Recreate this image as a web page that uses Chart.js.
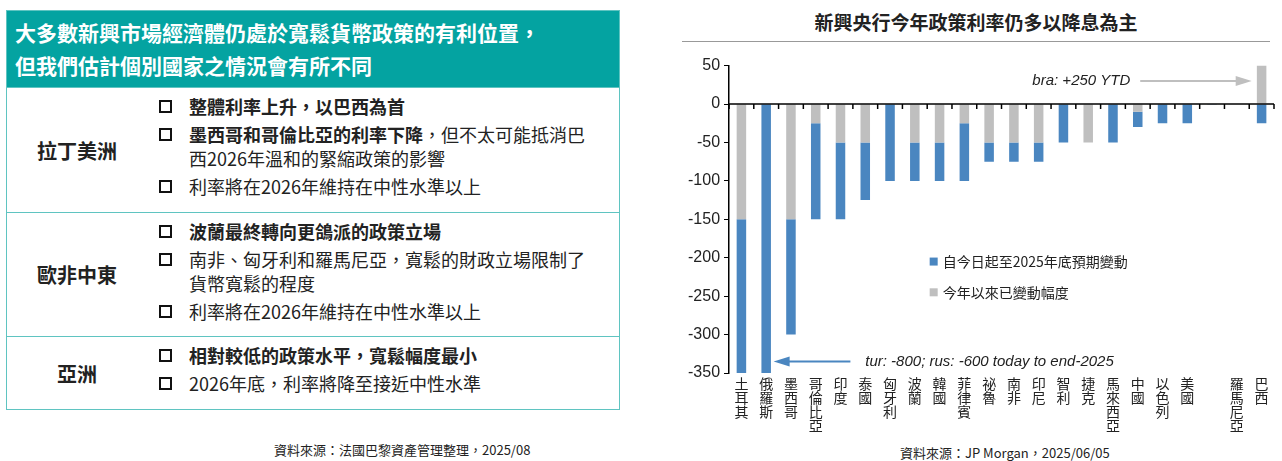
<!DOCTYPE html>
<html><head><meta charset="utf-8">
<script src="https://cdn.jsdelivr.net/npm/chart.js@4/dist/chart.umd.min.js"></script>
<style>
body{margin:0;width:1282px;height:461px;background:#fff;font-family:"Noto Sans CJK TC","Noto Sans",sans-serif;position:relative;overflow:hidden}
#panel{position:absolute;left:6px;top:10px;width:614px;height:400px;border:1px solid #5fc4c1;box-sizing:border-box}
#panel .hd{background:#04a3a1;color:#fff;font-size:21px;font-weight:bold;line-height:33px;padding:5px 8px;height:76px;box-sizing:border-box;white-space:nowrap;overflow:hidden}
.row{display:flex;border-top:1px solid #5fc4c1;box-sizing:border-box}
.row .rg{width:140px;display:flex;align-items:center;justify-content:center;font-size:20px;font-weight:bold;color:#222}
.row ul{list-style:none;margin:0;padding:6px 22px 0 10px;flex:1}
.row li{font-size:18px;line-height:24px;color:#222;padding-left:32px;position:relative;margin-bottom:4px}
.row li:before{content:"";position:absolute;left:2px;top:6px;width:9px;height:9px;border:2px solid #111}
.b{font-weight:bold}
.src{position:absolute;font-size:13px;color:#222}
#title{position:absolute;left:682px;top:8px;width:588px;text-align:center;font-size:19px;font-weight:bold;color:#222;border-bottom:1px solid #999;padding-bottom:6px}
#wrap{position:absolute;left:676px;top:52px;width:604px;height:385px}
</style></head><body>
<div id="panel">
 <div class="hd">大多數新興市場經濟體仍處於寬鬆貨幣政策的有利位置，<br>但我們估計個別國家之情況會有所不同</div>
 <div class="row" style="height:125px"><div class="rg">拉丁美洲</div><ul>
  <li class="b">整體利率上升，以巴西為首</li>
  <li><span class="b">墨西哥和哥倫比亞的利率下降</span>，但不太可能抵消巴西2026年溫和的緊縮政策的影響</li>
  <li>利率將在2026年維持在中性水準以上</li></ul></div>
 <div class="row" style="height:124px"><div class="rg">歐非中東</div><ul>
  <li class="b">波蘭最終轉向更鴿派的政策立場</li>
  <li>南非、匈牙利和羅馬尼亞，寬鬆的財政立場限制了貨幣寬鬆的程度</li>
  <li>利率將在2026年維持在中性水準以上</li></ul></div>
 <div class="row" style="height:74px"><div class="rg">亞洲</div><ul>
  <li class="b">相對較低的政策水平，寬鬆幅度最小</li>
  <li>2026年底，利率將降至接近中性水準</li></ul></div>
</div>
<div class="src" style="left:274px;top:440px">資料來源：法國巴黎資產管理整理，2025/08</div>
<div id="title">新興央行今年政策利率仍多以降息為主</div>
<div id="wrap"><canvas id="c"></canvas></div>
<div class="src" style="left:900px;top:443px">資料來源：JP Morgan，2025/06/05</div>
<script>
var countries = ['土耳其','俄羅斯','墨西哥','哥倫比亞','印度','泰國','匈牙利','波蘭','韓國','菲律賓','祕魯','南非','印尼','智利','捷克','馬來西亞','中國','以色列','美國','','羅馬尼亞','巴西'];
var ytdChange = [-150,0,-150,-25,-50,-50,0,-50,-50,-25,-50,-50,-50,0,-50,0,-10,0,0,0,0,50];
var forecastChange = [-650,-600,-150,-125,-100,-75,-100,-50,-50,-75,-25,-25,-25,-50,0,-50,-20,-25,-25,-1,0,-25];
var yTicks = [50,0,-50,-100,-150,-200,-250,-300,-350];

var BLUE = '#4a86c0', GRAY = '#bfbfbf';
var font = '"Liberation Sans", Arial, sans-serif';

function arrow(ctx, x1, y, x2, color) {
  ctx.save();
  ctx.strokeStyle = color; ctx.fillStyle = color; ctx.lineWidth = 2;
  ctx.beginPath(); ctx.moveTo(x1, y); ctx.lineTo(x2 + (x2 > x1 ? -12 : 12), y); ctx.stroke();
  var d = x2 > x1 ? -1 : 1;
  ctx.beginPath(); ctx.moveTo(x2, y); ctx.lineTo(x2 + d * 16, y - 5); ctx.lineTo(x2 + d * 16, y + 5); ctx.closePath(); ctx.fill();
  ctx.restore();
}

var extras = {
  id: 'extras',
  afterDatasetsDraw: function(chart) {
    var ctx = chart.ctx, x = chart.scales.x, y = chart.scales.y, a = chart.chartArea;
    var y0 = y.getPixelForValue(0);
    ctx.save();
    ctx.strokeStyle = '#000'; ctx.lineWidth = 1.5;
    ctx.beginPath(); ctx.moveTo(a.left, y0); ctx.lineTo(a.right, y0); ctx.stroke();
    for (var i = 0; i <= countries.length; i++) {
      var px = a.left + (a.right - a.left) * i / countries.length;
      ctx.beginPath(); ctx.moveTo(px, y0); ctx.lineTo(px, y0 + 5); ctx.stroke();
    }
    ctx.font = 'italic 15px ' + font; ctx.fillStyle = '#222'; ctx.textBaseline = 'middle';
    ctx.textAlign = 'right';
    ctx.fillText('bra: +250 YTD', x.getPixelForValue(15.7), y.getPixelForValue(30));
    ctx.textAlign = 'left';
    ctx.fillText('tur: -800; rus: -600 today to end-2025', x.getPixelForValue(5), y.getPixelForValue(-335));
    ctx.restore();
    arrow(ctx, x.getPixelForValue(16.1), y.getPixelForValue(30), x.getPixelForValue(20.6), '#bfbfbf');
    arrow(ctx, x.getPixelForValue(4.4), y.getPixelForValue(-335), x.getPixelForValue(1.3), BLUE);
    ctx.save();
    ctx.font = '14px "Noto Sans CJK TC", sans-serif'; ctx.textBaseline = 'middle'; ctx.fillStyle = '#222';
    var lx = x.getPixelForValue(7.6);
    [[BLUE, '自今日起至2025年底預期變動', -205], [GRAY, '今年以來已變動幅度', -245]].forEach(function(it) {
      var ly = y.getPixelForValue(it[2]);
      ctx.fillStyle = it[0]; ctx.fillRect(lx, ly - 4, 8, 8);
      ctx.fillStyle = '#222'; ctx.fillText(it[1], lx + 13, ly);
    });
    ctx.restore();
  }
};

new Chart(document.getElementById('c'), {
  type: 'bar',
  data: {
    labels: countries.map(function(c) { return c.split(''); }),
    datasets: [
      { label: '今年以來已變動幅度', data: ytdChange, backgroundColor: GRAY, stack: 's' },
      { label: '自今日起至2025年底預期變動', data: forecastChange, backgroundColor: BLUE, stack: 's' }
    ]
  },
  options: {
    responsive: true, maintainAspectRatio: false, animation: false,
    layout: { padding: { top: 10, right: 6, left: 8 } },
    datasets: { bar: { barPercentage: 0.8, categoryPercentage: 0.48 } },
    plugins: { legend: { display: false }, tooltip: { enabled: false } },
    scales: {
      x: {
        stacked: true,
        grid: { display: false, drawTicks: false },
        border: { display: false },
        ticks: { maxRotation: 0, minRotation: 0, autoSkip: false, color: '#222', padding: 4,
                 font: { family: '"Noto Sans CJK TC", sans-serif', size: 14, lineHeight: 1.0 } }
      },
      y: {
        stacked: true, min: -350, max: 50,
        afterBuildTicks: function(s) { s.ticks = yTicks.map(function(v) { return { value: v }; }); },
        grid: { display: true, drawOnChartArea: false, drawTicks: true, tickLength: 5, color: '#000' },
        border: { display: true, color: '#000', width: 1.5 },
        ticks: { color: '#222', font: { family: font, size: 16 }, padding: 4 }
      }
    }
  },
  plugins: [extras]
});
</script>
</body></html>
